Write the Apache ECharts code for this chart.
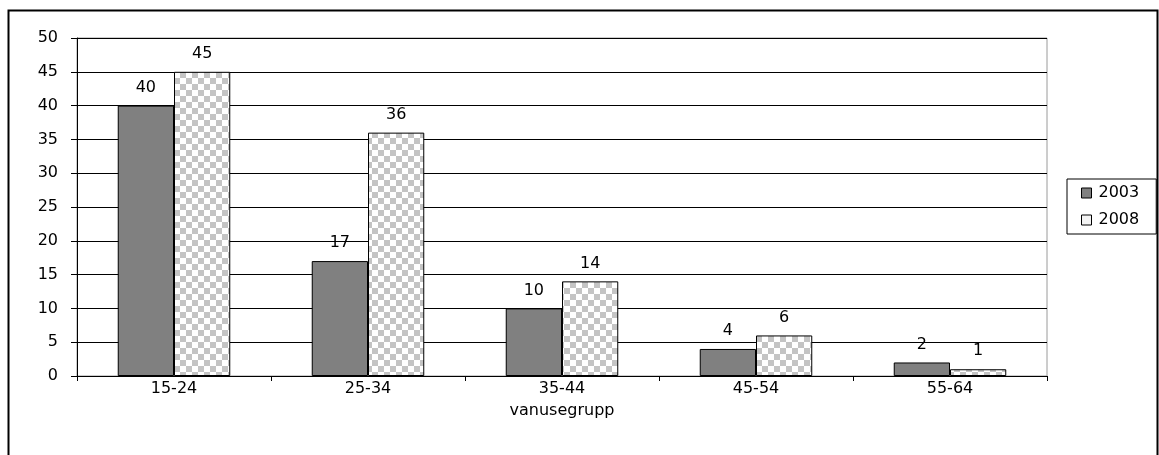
<!DOCTYPE html>
<html>
<head>
<meta charset="utf-8">
<script src="https://cdn.jsdelivr.net/npm/echarts@6/dist/echarts.min.js"></script>
<style>
html,body{margin:0;padding:0;background:#fff;}
#chart{width:1159px;height:455px;}
</style>
</head>
<body>
<div id="chart"></div>
<script>
const categories = ['15-24', '25-34', '35-44', '45-54', '55-64'];
const values2003 = [40, 17, 10, 4, 2];
const values2008 = [45, 36, 14, 6, 1];
const seriesNames = ['2003', '2008'];
const xAxisName = 'vanusegrupp';

function checker() {
  const c = document.createElement('canvas');
  c.width = 12; c.height = 12;
  const g = c.getContext('2d');
  g.fillStyle = '#ffffff'; g.fillRect(0, 0, 12, 12);
  g.fillStyle = '#c4c4c4';
  g.fillRect(0, 0, 6, 6);
  g.fillRect(6, 6, 6, 6);
  return c;
}
const pattern = { image: checker(), repeat: 'repeat' };

const font = 'DejaVu Sans, Verdana, sans-serif';
const fs = 16;
const chart = echarts.init(document.getElementById('chart'), null, { renderer: 'canvas' });
chart.setOption({
  animation: false,
  backgroundColor: '#fff',
  textStyle: { fontFamily: font },
  graphic: [{
    type: 'rect', shape: { x: 8.5, y: 10.5, width: 1149, height: 460 },
    style: { fill: 'none', stroke: '#000', lineWidth: 2 }, silent: true, z: -1
  }],
  grid: { left: 77, right: 112, top: 38, bottom: 79, show: true, borderColor: '#9a9a9a', borderWidth: 1 },
  legend: {
    orient: 'vertical', left: 1067, top: 179,
    data: [
      { name: seriesNames[0], itemStyle: { color: '#808080', borderColor: '#000', borderWidth: 1 } },
      { name: seriesNames[1], itemStyle: { color: '#f4f4f4', borderColor: '#000', borderWidth: 1 } }
    ],
    itemWidth: 10, itemHeight: 10, itemGap: 11,
    padding: [6, 17, 6, 14],
    borderColor: '#000', borderWidth: 1,
    textStyle: { fontSize: fs, color: '#000', fontFamily: font, lineHeight: 16, padding: [0, 0, 0, 2] },
    icon: 'rect'
  },
  xAxis: {
    type: 'category', data: categories,
    name: xAxisName, nameLocation: 'middle', nameGap: 27,
    nameTextStyle: { fontSize: fs, color: '#000', fontFamily: font },
    axisLine: { lineStyle: { color: '#000', width: 1 } },
    axisTick: { show: true, length: 5, lineStyle: { color: '#000' } },
    axisLabel: { fontSize: fs, color: '#000', margin: 5, fontFamily: font }
  },
  yAxis: {
    type: 'value', min: 0, max: 50, interval: 5,
    axisLine: { show: true, lineStyle: { color: '#000' } },
    axisTick: { show: true, inside: false, length: 6, lineStyle: { color: '#000' } },
    axisLabel: { fontSize: fs, color: '#000', margin: 19, fontFamily: font },
    splitLine: { show: true, lineStyle: { color: '#000', width: 1 } }
  },
  series: [
    {
      name: seriesNames[0], type: 'bar', data: values2003,
      barGap: '0%', barCategoryGap: '42%',
      itemStyle: { color: '#808080', borderColor: '#000', borderWidth: 1 },
      label: { show: true, position: 'top', distance: 10, fontSize: fs, color: '#000', fontFamily: font }
    },
    {
      name: seriesNames[1], type: 'bar', data: values2008,
      itemStyle: { color: pattern, borderColor: '#000', borderWidth: 1 },
      label: { show: true, position: 'top', distance: 10, fontSize: fs, color: '#000', fontFamily: font }
    }
  ]
});
</script>
</body>
</html>
